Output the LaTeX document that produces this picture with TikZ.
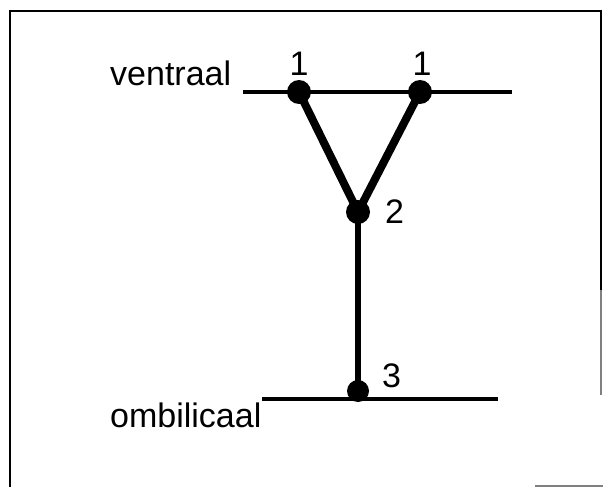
\documentclass[tikz,border=0pt]{standalone}
\usepackage{fontspec}
\setmainfont{Liberation Sans}
\usetikzlibrary{backgrounds}
\begin{document}
\begin{tikzpicture}[x=1pt,y=-1pt,
  dot/.style={circle,fill=black,inner sep=0pt,minimum size=24pt},
  lbl/.style={font=\fontsize{34}{40}\selectfont,inner sep=0pt},
  axisline/.style={line width=3.5pt},
  leg/.style={line width=8pt},
  stemline/.style={line width=6pt},
  framel/.style={line width=2.5pt}]
\useasboundingbox (0,0) rectangle (603,487);
% frame
\draw[framel] (10,487) -- (10,11) -- (601,11) -- (601,290);
\draw[gray,line width=1.5pt] (601,290) -- (601,395);
\draw[gray,line width=1.2pt] (535,486) -- (603,486);
% dots
\node[dot] (a) at (299,92) {};
\node[dot] (b) at (420,92) {};
\node[dot] (c) at (358,212) {};
\node[dot,minimum size=22pt] (d) at (358,391) {};
\coordinate (vl) at (243,92);
\coordinate (vr) at (512,92);
\coordinate (ol) at (262,399);
\coordinate (or) at (498,399);
\begin{scope}[on background layer]
\draw[axisline] (vl) -- (vr);
\draw[axisline] (ol) -- (or);
\draw[leg] (a.center) -- (c.center);
\draw[leg] (b.center) -- (c.center);
\draw[stemline] (c.center) -- (d.center);
\end{scope}
% labels
\node[lbl,anchor=base west] (tv) at (110,85) {ventraal};
\node[lbl,anchor=base west] (to) at (110,427) {ombilicaal};
\node[lbl,anchor=base] (l1) at (299,76) {1};
\node[lbl,anchor=base] (l2) at (422,76) {1};
\node[lbl,anchor=base west] (l3) at (385,223) {2};
\node[lbl,anchor=base west] (l4) at (382,387) {3};
\end{tikzpicture}
\end{document}
